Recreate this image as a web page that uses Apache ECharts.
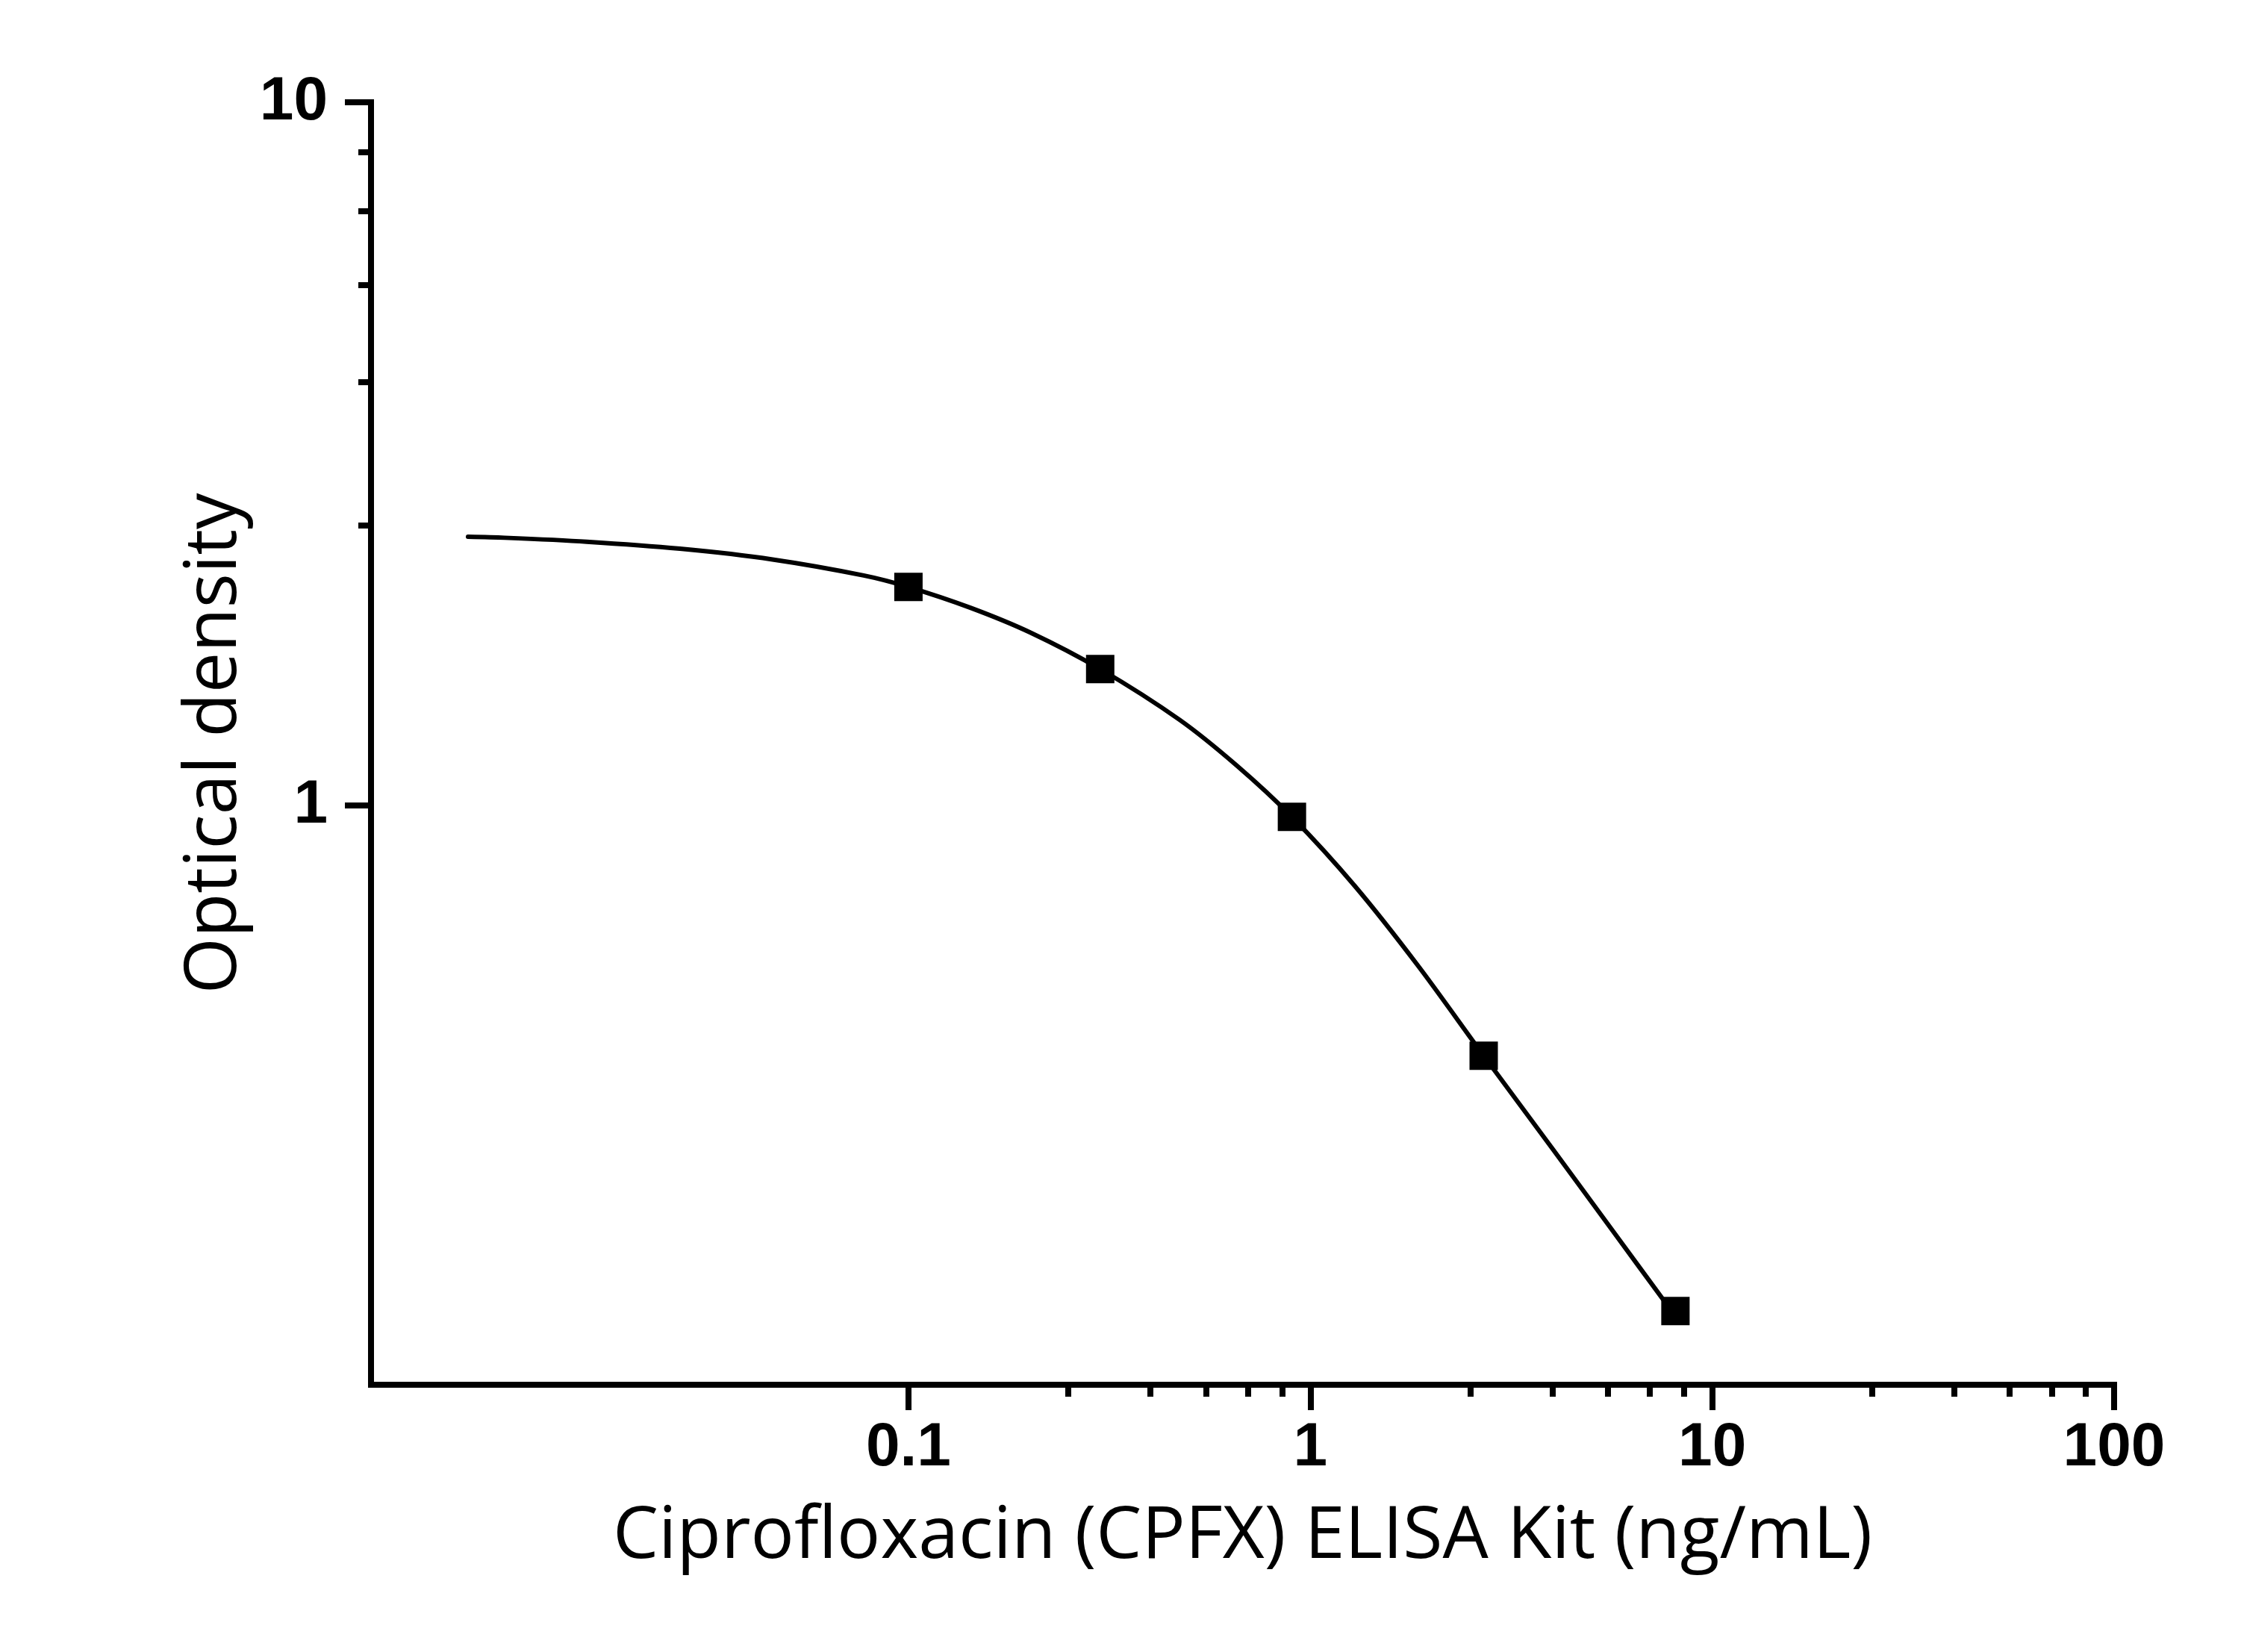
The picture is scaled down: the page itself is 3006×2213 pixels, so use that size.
<!DOCTYPE html>
<html>
<head>
<meta charset="utf-8">
<script src="https://cdn.jsdelivr.net/npm/echarts@6/dist/echarts.min.js"></script>
<style>
html,body{margin:0;padding:0;background:#fff;}
#chart{width:3006px;height:2213px;}
</style>
</head>
<body>
<div id="chart"></div>
<script>
// Measured standard points (concentration ng/mL, optical density)
const stdConc = [0.1, 0.3, 0.9, 2.7, 8.1];
const stdOD = [2.045, 1.563, 0.963, 0.4405, 0.191];

// Fitted curve
const curveConc = [0.00802, 0.00989, 0.01583, 0.02701, 0.0459, 0.07736, 0.1, 0.1426, 0.2009, 0.3, 0.4725, 0.6568, 0.9, 1.291, 1.857, 2.7, 4.01, 5.646, 8.1];
const curveOD = [2.41, 2.4025, 2.3716, 2.3176, 2.2379, 2.1236, 2.045, 1.9107, 1.762, 1.563, 1.3239, 1.1387, 0.963, 0.7679, 0.5908, 0.4405, 0.3246, 0.2486, 0.1877];

// Axis ticks
const xMajorTicks = [0.1, 1, 10, 100];
const xMinorTicks = [0.25, 0.4, 0.55, 0.7, 0.85, 2.5, 4, 5.5, 7, 8.5, 25, 40, 55, 70, 85];
const yMajorTicks = [1, 10];
const yMinorTicks = [2.5, 4, 5.5, 7, 8.5];

const xName = 'Ciprofloxacin (CPFX) ELISA Kit (ng/mL)';
const yName = 'Optical density';

const xMin = 0.0046, xMax = 100;
const yMin = 0.15, yMax = 10;

const chart = echarts.init(document.getElementById('chart'), null, {renderer: 'canvas'});

const labelFont = {
  color: '#000',
  fontFamily: '"Liberation Sans", Arial, sans-serif',
  fontWeight: 'bold',
  fontSize: 82
};
const nameFont = {
  color: '#000',
  fontFamily: '"Open Sans", "Noto Sans", sans-serif',
  fontWeight: 'normal',
  fontSize: 97
};
const axisLine = {show: true, onZero: false, lineStyle: {color: '#000', width: 8, cap: 'square'}};

const option = {
  backgroundColor: '#fff',
  animation: false,
  grid: {left: 497, right: 174, top: 137, bottom: 358, containLabel: false, outerBoundsMode: 'none'},
  xAxis: [
    {
      type: 'log', logBase: 10, min: xMin, max: xMax, position: 'bottom',
      axisLine: axisLine,
      axisTick: {show: true, inside: false, length: 34, customValues: xMajorTicks, lineStyle: {color: '#000', width: 8}},
      axisLabel: Object.assign({show: true, margin: 44, customValues: xMajorTicks, formatter: v => String(v)}, labelFont),
      splitLine: {show: false},
      minorTick: {show: false},
      name: xName, nameLocation: 'middle', nameGap: 156,
      nameTextStyle: nameFont
    },
    {
      type: 'log', logBase: 10, min: xMin, max: xMax, position: 'bottom',
      axisLine: {show: false},
      axisTick: {show: true, inside: false, length: 16, customValues: xMinorTicks, lineStyle: {color: '#000', width: 8}},
      axisLabel: {show: false},
      splitLine: {show: false}
    }
  ],
  yAxis: [
    {
      type: 'log', logBase: 10, min: yMin, max: yMax, position: 'left',
      axisLine: axisLine,
      axisTick: {show: true, inside: false, length: 35, customValues: yMajorTicks, lineStyle: {color: '#000', width: 8}},
      axisLabel: Object.assign({show: true, margin: 58, customValues: yMajorTicks, formatter: v => String(v)}, labelFont),
      splitLine: {show: false},
      minorTick: {show: false},
      name: yName, nameLocation: 'middle', nameGap: 138,
      nameTextStyle: nameFont
    },
    {
      type: 'log', logBase: 10, min: yMin, max: yMax, position: 'left',
      axisLine: {show: false},
      axisTick: {show: true, inside: false, length: 17, customValues: yMinorTicks, lineStyle: {color: '#000', width: 8}},
      axisLabel: {show: false},
      splitLine: {show: false}
    }
  ],
  series: [
    {
      type: 'line',
      xAxisIndex: 0, yAxisIndex: 0,
      data: curveConc.map((c, i) => [c, curveOD[i]]),
      smooth: 0.3,
      showSymbol: false,
      symbol: 'none',
      lineStyle: {color: '#000', width: 6, cap: 'round', join: 'round'},
      z: 2
    },
    {
      type: 'scatter',
      xAxisIndex: 0, yAxisIndex: 0,
      data: stdConc.map((c, i) => [c, stdOD[i]]),
      symbol: 'rect',
      symbolSize: 38,
      itemStyle: {color: '#000', opacity: 1},
      z: 3
    }
  ]
};
chart.setOption(option);
</script>
</body>
</html>
